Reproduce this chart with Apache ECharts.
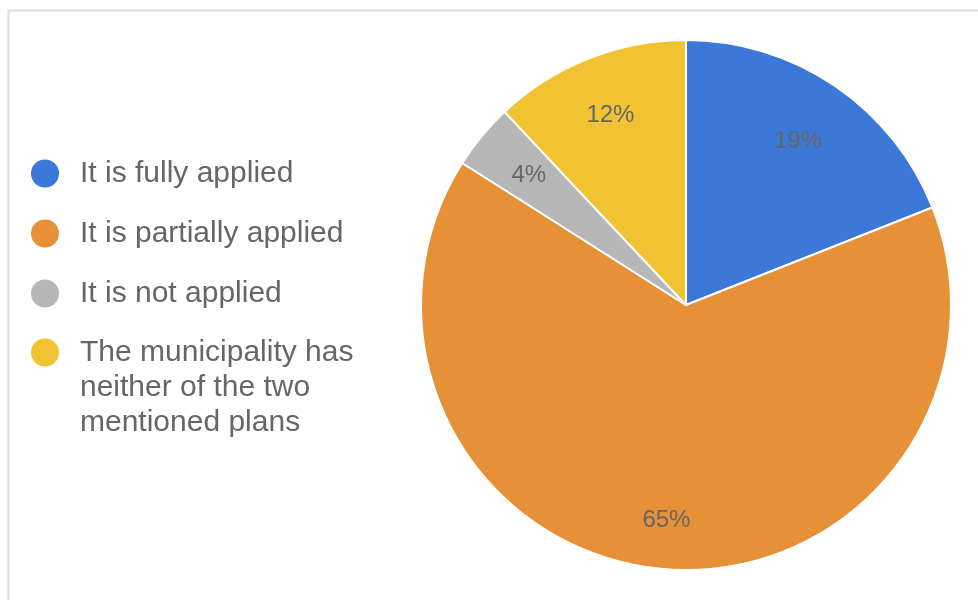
<!DOCTYPE html>
<html>
<head>
<meta charset="utf-8">
<script src="https://cdn.jsdelivr.net/npm/echarts@6/dist/echarts.min.js"></script>
<style>
html,body{margin:0;padding:0;background:#fff;}
#chart{width:978px;height:600px;}
</style>
</head>
<body>
<div id="chart"></div>
<script>
const categories = ['It is fully applied', 'It is partially applied', 'It is not applied', 'The municipality has neither of the two mentioned plans'];
const values = [19, 65, 4, 12];
const colors = ['#3c78d8', '#e69138', '#b7b7b7', '#f1c232'];
const legendLabels = {
  'The municipality has neither of the two mentioned plans': '\n\nThe municipality has\nneither of the two\nmentioned plans'
};

const data = categories.map((c, i) => ({ name: c, value: values[i], itemStyle: { color: colors[i] } }));
const font = 'Liberation Sans, Arial, sans-serif';
const labelOffsets = [[-5, 8], [0, 8], [3, 3], [1, 4]];

const legendBase = {
  orient: 'vertical',
  padding: 0,
  itemWidth: 60,
  itemHeight: 28,
  itemGap: 25,
  icon: 'circle',
  itemStyle: { borderWidth: 0 },
  formatter: n => legendLabels[n] || n,
  textStyle: { fontFamily: font, fontSize: 30, color: '#666', lineHeight: 35 }
};

const chart = echarts.init(document.getElementById('chart'), null, { renderer: 'canvas' });
chart.setOption({
  animation: false,
  graphic: [{
    type: 'rect', left: 6, top: 8, silent: true,
    shape: { width: 1200, height: 1000 },
    style: { fill: 'none', stroke: '#dcdcdc', lineWidth: 2 }
  }],
  legend: [
    Object.assign({}, legendBase, { left: 31, top: 156, data: categories.slice(0, 3) }),
    Object.assign({}, legendBase, { left: 31, top: 265, data: categories.slice(3) })
  ],
  series: [{
    type: 'pie',
    center: [686, 305],
    radius: 265,
    startAngle: 90,
    clockwise: true,
    label: { show: false },
    labelLine: { show: false },
    itemStyle: { borderColor: '#fff', borderWidth: 2 },
    emphasis: { disabled: true },
    data: data
  }, {
    type: 'pie',
    center: [686, 305],
    radius: [200, 210],
    startAngle: 90,
    clockwise: true,
    silent: true,
    legendHoverLink: false,
    itemStyle: { color: 'rgba(0,0,0,0)' },
    label: {
      show: true, position: 'inside',
      formatter: p => p.value + '%',
      fontFamily: font, fontSize: 24, color: '#666'
    },
    labelLine: { show: false },
    data: categories.map((c, i) => ({ name: c + ' ', value: values[i], label: { offset: labelOffsets[i] } }))
  }]
});
</script>
</body>
</html>
